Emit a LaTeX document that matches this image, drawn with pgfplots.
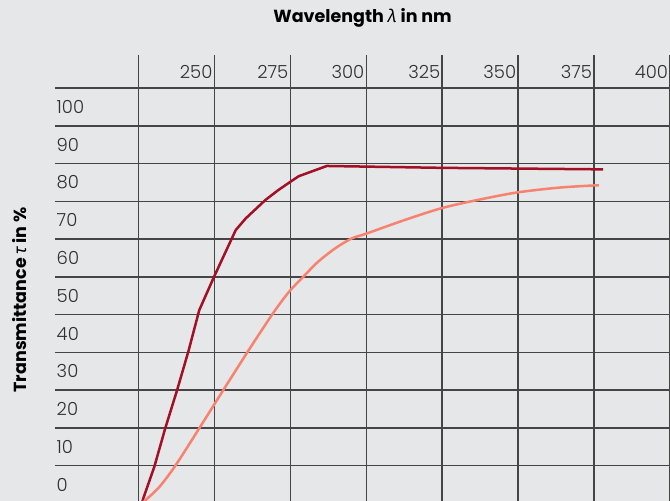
\documentclass[border=0pt]{standalone}
\usepackage{fontspec}
\setmainfont{Poppins}
\newfontfamily\tickfont{Poppins Light}
\newfontfamily\greekfont{Noto Sans}
\usepackage{pgfplots}
\pgfplotsset{compat=1.18}

\definecolor{bgc}{HTML}{E6E7E8}
\definecolor{gridc}{HTML}{454545}
\definecolor{txtc}{HTML}{303030}
\definecolor{darkred}{HTML}{A30F24}
\definecolor{salmon}{HTML}{F6826F}

\begin{document}
\begin{tikzpicture}
  \useasboundingbox (-55pt,2.4pt) rectangle (615pt,503.4pt);
  \fill[bgc] (-55pt,2.4pt) rectangle (615pt,503.4pt);
  \begin{axis}[
    at={(0pt,0pt)}, anchor=south west,
    scale only axis,
    width=615pt, height=448.4pt,
    xmin=197.5, xmax=400,
    ymin=0, ymax=118.8,
    axis line style={draw=none},
    major tick length=0pt,
    xtick={225,250,...,400},
    xticklabels={,250,275,300,325,350,375,400},
    ytick={0,10,...,110},
    yticklabels={0,10,20,30,40,50,60,70,80,90,100,},
    xticklabel pos=upper,
    grid=major,
    major grid style={gridc, line width=1.5pt},
    ticklabel style={font=\tickfont\fontsize{18}{21}\selectfont, text=txtc},
    xticklabel style={anchor=east, yshift=-17pt, xshift=1.5pt},
    yticklabel style={anchor=west, yshift=18.9pt, xshift=-1.8pt},
    title={Wavelength {\greekfont\itshape λ} in nm},
    every axis title/.style={at={(0.5,1)}, anchor=center, yshift=37pt,
      font=\bfseries\fontsize{17.5}{20}\selectfont, text=black},
    ylabel={Transmittance {\greekfont\itshape τ} in \%},
    every axis y label/.style={at={(-0.0569,0.4536)}, rotate=90, anchor=center,
      font=\bfseries\fontsize{17.5}{20}\selectfont, text=black},
  ]
    \addplot[darkred, line width=2.5pt, line join=round] coordinates {
      (226.3,0.6) (226.6,1.4) (230.2,9.7) (233.8,19.9) (237.7,30.0)
      (241.5,40.5) (245.0,51.2) (249.9,60.1) (257.0,72.4) (260.3,75.5)
      (266.8,80.4) (271.0,83.0) (275.0,85.2) (277.8,86.7) (287.0,89.4)
      (325.0,88.9) (378.0,88.5)
    };
    \addplot[salmon, line width=2.5pt, smooth, tension=0.5] coordinates {
      (226.8,0.5) (231.9,4.4) (237.3,10.2) (245.0,19.9)
      (252.9,30.0) (260.8,40.0) (265.5,45.8) (270.0,51.2) (274.6,56.1)
      (279.2,60.0) (284.1,64.0) (289.8,67.6) (295.2,70.2) (300.1,71.5)
      (312.7,75.1) (324.7,78.2) (336.7,80.4) (349.8,82.4) (364.0,83.7)
      (376.6,84.3)
    };
  \end{axis}
\end{tikzpicture}
\end{document}
